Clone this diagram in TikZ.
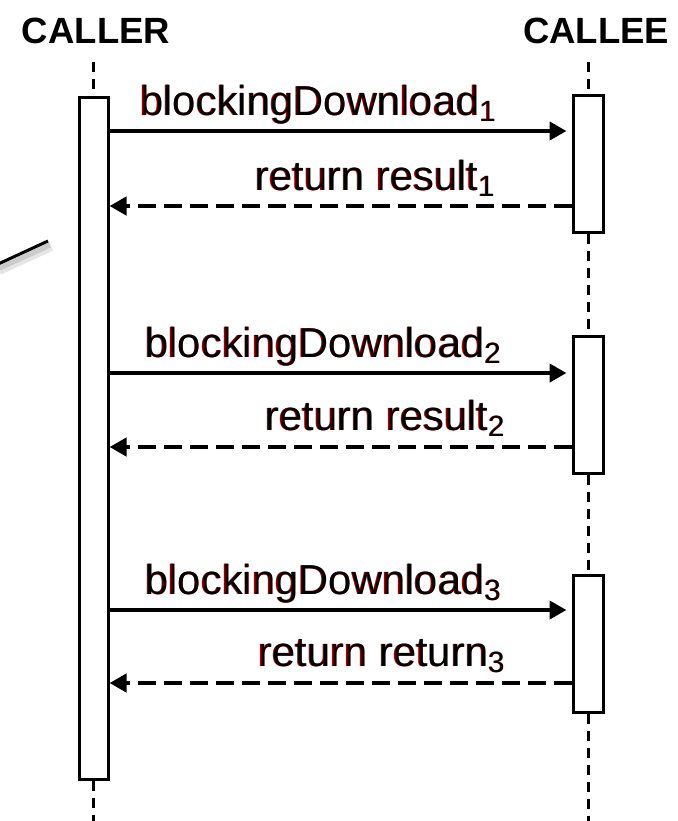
\documentclass[tikz,border=0pt]{standalone}
\usepackage{fontspec}
\setmainfont{Liberation Sans}
\usetikzlibrary{arrows.meta}

\definecolor{rimred}{RGB}{190,0,0}
% red rim to the left of the message text
\newcommand{\rimtext}[1]{\makebox[0pt][l]{\hspace*{-0.45pt}\textcolor{rimred}{#1}}#1}

\begin{document}
\begin{tikzpicture}[x=0.5pt,y=-0.5pt,
	actor/.style={font=\fontsize{18.25pt}{20pt}\selectfont\bfseries,inner sep=0pt,anchor=base},
	msg/.style={font=\fontsize{20.9pt}{24pt}\selectfont,inner sep=0pt,anchor=base west},
	bar/.style={rectangle,draw,fill=white,line width=1.5pt,minimum width=15pt,minimum height=68.5pt},
	life/.style={line width=1.75pt,dash pattern=on 5pt off 3.5pt},
	call/.style={line width=2.1pt,shorten >=2.75pt,-{Triangle[length=8.5pt,width=9pt]}},
	reply/.style={line width=2.1pt,dash pattern=on 9pt off 4pt,-{Triangle[length=8.5pt,width=9pt]}}]
	
	\useasboundingbox (0,0) rectangle (677,821);
	
	\node (caller) [actor] at (96,43) {CALLER};
	
	\node (callee) [actor] at (596,43) {CALLEE};
	
	\node (callerbar) [bar,minimum width=14.5pt,minimum height=341pt] at (93.5,438) {};
	
	\node (calleeA) [bar] at (588.5,163.5) {};
	
	\node (calleeB) [bar] at (588.5,404.5) {};
	
	\node (calleeC) [bar] at (588.5,643.5) {};
	
	% lifelines
	\coordinate (callertop) at (93.5,62);
	\coordinate (callerend) at (93.5,825);
	\coordinate (calleetop) at (588.5,62);
	\coordinate (calleeend) at (588.5,825);
	
	\draw[life] (callertop) -- (callerbar.north);
	\draw[life] (callerbar.south) -- (callerend);
	\draw[life] (calleetop) -- (calleeA.north);
	\draw[life] (calleeA.south) -- (calleeB.north);
	\draw[life] (calleeB.south) -- (calleeC.north);
	\draw[life] (calleeC.south) -- (calleeend);
	
	% message levels
	\coordinate (m1) at (0,131);
	\coordinate (r1) at (0,206);
	\coordinate (m2) at (0,373);
	\coordinate (r2) at (0,447);
	\coordinate (m3) at (0,610);
	\coordinate (r3) at (0,683);
	
	\draw[call] (callerbar.east |- m1) -- (calleeA.west |- m1);
	\draw[reply] (calleeA.west |- r1) -- (callerbar.east |- r1);
	\draw[call] (callerbar.east |- m2) -- (calleeB.west |- m2);
	\draw[reply] (calleeB.west |- r2) -- (callerbar.east |- r2);
	\draw[call] (callerbar.east |- m3) -- (calleeC.west |- m3);
	\draw[reply] (calleeC.west |- r3) -- (callerbar.east |- r3);
	
	\node (call1) [msg] at (140,115) {\rimtext{blockingDownload\textsubscript{1}}};
	
	\node (ret1) [msg] at (255,190) {\rimtext{return result\textsubscript{1}}};
	
	\node (call2) [msg] at (145,357) {\rimtext{blockingDownload\textsubscript{2}}};
	
	\node (ret2) [msg] at (265,430) {\rimtext{return result\textsubscript{2}}};
	
	\node (call3) [msg] at (145,594) {\rimtext{blockingDownload\textsubscript{3}}};
	
	\node (ret3) [msg] at (258,666) {\rimtext{return return\textsubscript{3}}};
	
	% short pointer stub with its shadow
	\coordinate (stubA) at (-4,265);
	\coordinate (stubB) at (48,241);
	\draw[line width=5pt,black!20,opacity=0.5] ([shift={(3,5)}]stubA) -- ([shift={(3,5)}]stubB);
	\draw[line width=2.5pt,black!30,opacity=0.5] ([shift={(2,4)}]stubA) -- ([shift={(2,4)}]stubB);
	\draw[line width=1.5pt] (stubA) -- (stubB);
	
\end{tikzpicture}
\end{document}
